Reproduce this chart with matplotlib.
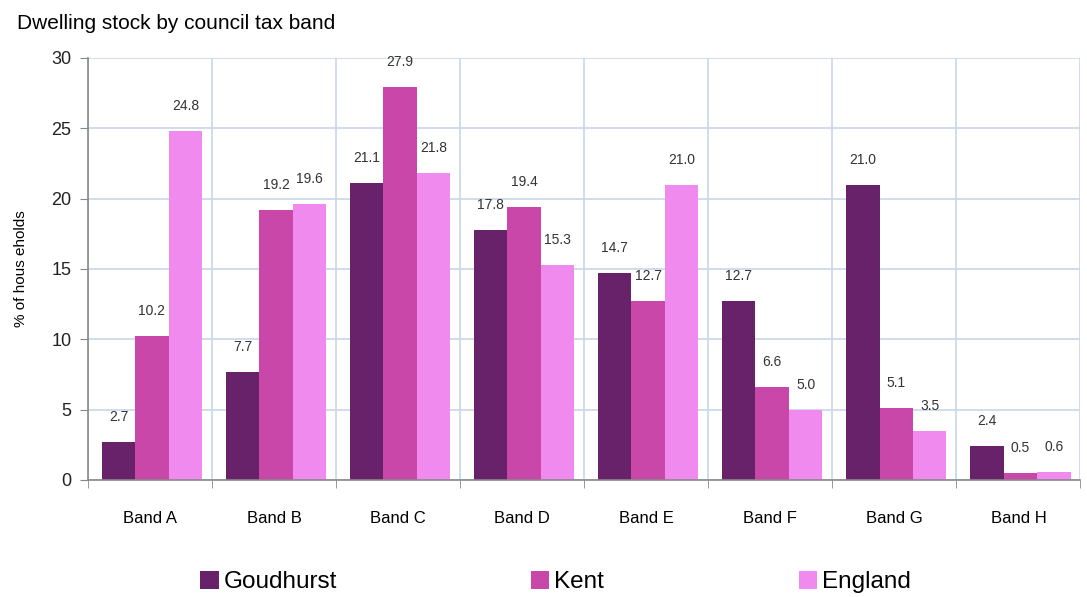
import matplotlib
matplotlib.use('Agg')
import matplotlib.pyplot as plt
import numpy as np

plt.rcParams['font.family'] = ['Liberation Sans', 'DejaVu Sans']

bands = ['Band A', 'Band B', 'Band C', 'Band D', 'Band E', 'Band F', 'Band G', 'Band H']
goudhurst = [2.7, 7.7, 21.1, 17.8, 14.7, 12.7, 21.0, 2.4]
kent = [10.2, 19.2, 27.9, 19.4, 12.7, 6.6, 5.1, 0.5]
england = [24.8, 19.6, 21.8, 15.3, 21.0, 5.0, 3.5, 0.6]
series_names = ['Goudhurst', 'Kent', 'England']
colors = ['#68226a', '#c847a8', '#f08aee']

fig = plt.figure(figsize=(10.87, 5.97), dpi=100)
ax = fig.add_axes([0.081, 0.196, 0.913, 0.707])

x = np.arange(len(bands))
w = 0.27
for i, (vals, name, col) in enumerate(zip([goudhurst, kent, england], series_names, colors)):
    pos = x + (i - 1) * w + 0.015
    bars = ax.bar(pos, vals, width=w, color=col, label=name, zorder=3)
    for b, v in zip(bars, vals):
        ax.annotate(f'{v:.1f}', (b.get_x() + b.get_width() / 2, v),
                    xytext=(0, 18), textcoords='offset points',
                    ha='center', va='center', fontsize=10, color='#333333')

ax.set_xlim(-0.5, len(bands) - 0.5)
ax.set_ylim(0, 30)
ax.set_yticks(range(0, 31, 5))
ax.set_xticks(x)
ax.set_xticklabels(bands, fontsize=12)
ax.set_xticks(np.arange(-0.5, len(bands)), minor=True)
ax.tick_params(axis='x', which='major', length=0, pad=22)
ax.tick_params(axis='x', which='minor', length=6, color='#888888', direction='out')
ax.tick_params(axis='y', labelsize=13, length=6, color='#888888', pad=6, labelcolor='#222222')

ax.grid(True, which='minor', axis='x', color='#c8d6ea', linewidth=1.2, zorder=0)
ax.grid(True, which='major', axis='y', color='#c8d6ea', linewidth=1.2, zorder=0)
for s in ['top', 'right']:
    ax.spines[s].set_visible(False)
for s in ['left', 'bottom']:
    ax.spines[s].set_color('#888888')
    ax.spines[s].set_linewidth(1.2)
    ax.spines[s].set_zorder(4)

ax.set_ylabel('% of hous eholds', fontsize=11, labelpad=17)
fig.text(0.016, 0.96, 'Dwelling stock by council tax band', fontsize=15, ha='left', va='center')

fig.legend(loc='center', bbox_to_anchor=(0.511, 0.025), ncol=3, frameon=False,
           fontsize=17.5, handlelength=0.75, handleheight=0.75, handletextpad=0.2,
           columnspacing=8.0)

fig.savefig('out.png', dpi=100)
